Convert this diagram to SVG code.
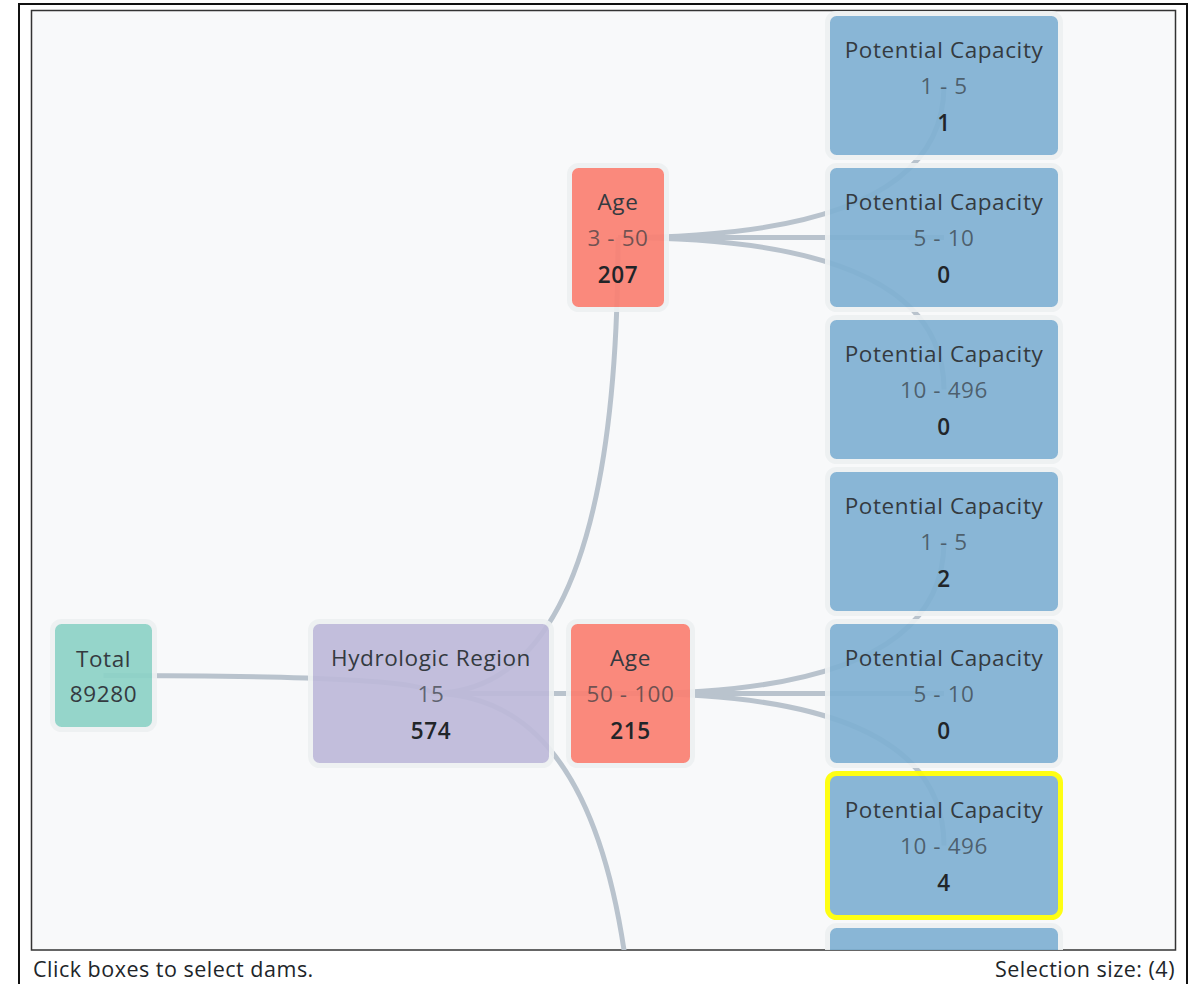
<svg xmlns="http://www.w3.org/2000/svg" width="1199" height="984" viewBox="0 0 1199 984">
<defs>
<clipPath id="area"><rect x="32" y="11" width="1143" height="939"/></clipPath>
<style>
.link{fill:none;stroke:#b9c3cd;stroke-width:5}
.box{stroke:#eef1f2;stroke-width:5}
.sel{stroke:#ffff00}
.t{font-family:"Open Sans","Noto Sans",sans-serif;font-size:22.5px;letter-spacing:0.6px;text-anchor:middle}
.ti{fill:#343a40;font-weight:500}
.rg{fill:#343a40;fill-opacity:0.7}
.ct{fill:#212529;font-weight:600}
.ft{font-family:"Open Sans","Noto Sans",sans-serif;font-size:21.5px;letter-spacing:0.5px;fill:#212529}
</style>
</defs>
<rect x="0" y="0" width="1199" height="984" fill="#ffffff"/>
<rect x="19" y="4" width="1168" height="1000" fill="#ffffff" stroke="#111111" stroke-width="2"/>
<rect x="31.5" y="10.5" width="1144" height="939.5" fill="#f8f9fa" stroke="#333333" stroke-width="1.5"/>
<g clip-path="url(#area)">
<g id="links">
<path class="link" d="M103.5,675.5 Q431,675.5 431,693.5"/>
<path class="link" d="M431,693.5 Q618,693.5 618,237.5"/>
<path class="link" d="M431,693.5 L630.5,693.5"/>
<path class="link" d="M431,693.5 Q637,693.5 637,1151"/>
<path class="link" d="M618,237.5 Q944,237.5 944,85.5"/>
<path class="link" d="M618,237.5 L944,237.5"/>
<path class="link" d="M618,237.5 Q944,237.5 944,389.5"/>
<path class="link" d="M630.5,693.5 Q944,693.5 944,541.5"/>
<path class="link" d="M630.5,693.5 L944,693.5"/>
<path class="link" d="M630.5,693.5 Q944,693.5 944,845.5"/>
</g>
<g id="total">
<rect class="box" x="52.5" y="621.5" width="102" height="108" rx="9" fill="#8dd3c7" opacity="0.92"/>
<text class="t ti" x="103.5" y="667">Total</text>
<text class="t" fill="#343a40" x="103.5" y="702">89280</text>
</g>
<g id="hydro">
<rect class="box" x="310.5" y="621.5" width="241" height="144" rx="9" fill="#bebada" opacity="0.92"/>
<text class="t ti" x="431" y="666">Hydrologic Region</text>
<text class="t rg" x="431" y="702">15</text>
<text class="t ct" x="431" y="739">574</text>
</g>
<g id="age1">
<rect class="box" x="569.5" y="165.5" width="97" height="144" rx="9" fill="#fb8072" opacity="0.92"/>
<text class="t ti" x="618" y="210">Age</text>
<text class="t rg" x="618" y="246">3 - 50</text>
<text class="t ct" x="618" y="283">207</text>
</g>
<g id="age2">
<rect class="box" x="568.5" y="621.5" width="124" height="144" rx="9" fill="#fb8072" opacity="0.92"/>
<text class="t ti" x="630.5" y="666">Age</text>
<text class="t rg" x="630.5" y="702">50 - 100</text>
<text class="t ct" x="630.5" y="739">215</text>
</g>
<g id="pc1">
<rect class="box" x="827.5" y="13.5" width="233" height="144" rx="9" fill="#80b1d3" opacity="0.92"/>
<text class="t ti" x="944" y="58">Potential Capacity</text>
<text class="t rg" x="944" y="94">1 - 5</text>
<text class="t ct" x="944" y="131">1</text>
</g>
<g id="pc2">
<rect class="box" x="827.5" y="165.5" width="233" height="144" rx="9" fill="#80b1d3" opacity="0.92"/>
<text class="t ti" x="944" y="210">Potential Capacity</text>
<text class="t rg" x="944" y="246">5 - 10</text>
<text class="t ct" x="944" y="283">0</text>
</g>
<g id="pc3">
<rect class="box" x="827.5" y="317.5" width="233" height="144" rx="9" fill="#80b1d3" opacity="0.92"/>
<text class="t ti" x="944" y="362">Potential Capacity</text>
<text class="t rg" x="944" y="398">10 - 496</text>
<text class="t ct" x="944" y="435">0</text>
</g>
<g id="pc4">
<rect class="box" x="827.5" y="469.5" width="233" height="144" rx="9" fill="#80b1d3" opacity="0.92"/>
<text class="t ti" x="944" y="514">Potential Capacity</text>
<text class="t rg" x="944" y="550">1 - 5</text>
<text class="t ct" x="944" y="587">2</text>
</g>
<g id="pc5">
<rect class="box" x="827.5" y="621.5" width="233" height="144" rx="9" fill="#80b1d3" opacity="0.92"/>
<text class="t ti" x="944" y="666">Potential Capacity</text>
<text class="t rg" x="944" y="702">5 - 10</text>
<text class="t ct" x="944" y="739">0</text>
</g>
<g id="pc6">
<rect class="box sel" x="827.5" y="773.5" width="233" height="144" rx="9" fill="#80b1d3" opacity="0.92"/>
<text class="t ti" x="944" y="818">Potential Capacity</text>
<text class="t rg" x="944" y="854">10 - 496</text>
<text class="t ct" x="944" y="891">4</text>
</g>
<g id="pc7">
<rect class="box" x="827.5" y="925.5" width="233" height="144" rx="9" fill="#80b1d3" opacity="0.92"/>
</g>
</g>
<text class="ft" x="33" y="977">Click boxes to select dams.</text>
<text class="ft" x="1175" y="977" text-anchor="end">Selection size: (4)</text>
</svg>
